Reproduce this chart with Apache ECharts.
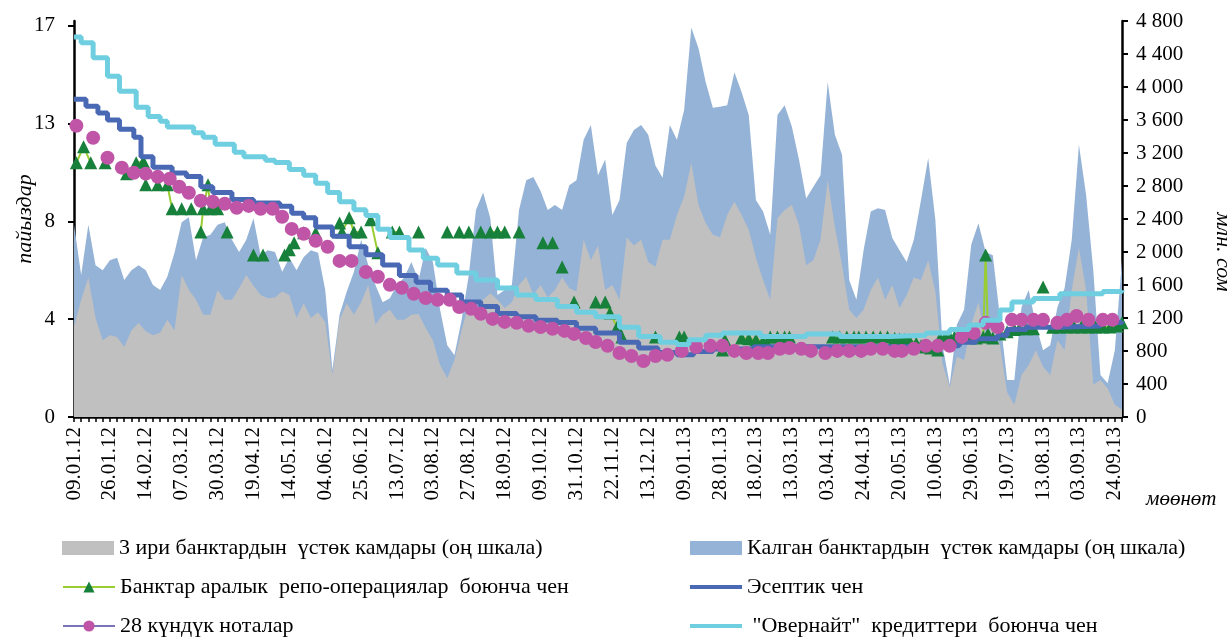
<!DOCTYPE html>
<html>
<head>
<meta charset="utf-8">
<script src="https://cdn.jsdelivr.net/npm/echarts@6/dist/echarts.min.js"></script>
<style>
  html, body { margin: 0; padding: 0; background: #fff; }
  #chart { width: 1232px; height: 639px; }
</style>
</head>
<body>
<div id="chart"></div>
<script>
// x axis = working days counted from 09.01.12, a date label every 15 days
var dateLabels = ['09.01.12', '26.01.12', '14.02.12', '07.03.12', '30.03.12', '19.04.12', '14.05.12', '04.06.12',
  '25.06.12', '13.07.12', '03.08.12', '27.08.12', '18.09.12', '09.10.12', '31.10.12', '22.11.12', '13.12.12',
  '09.01.13', '28.01.13', '18.02.13', '13.03.13', '03.04.13', '24.04.13', '20.05.13', '10.06.13', '29.06.13',
  '19.07.13', '13.08.13', '03.09.13', '24.09.13'];
var labelStep = 15;
var lastDay = 438;

var leftTicks = [0, 4.25, 8.5, 12.75, 17];
var leftTickLabels = ['0', '4', '8', '13', '17'];
var rightTickLabels = ['0', '400', '800', '1 200', '1 600', '2 000', '2 400', '2 800', '3 200', '3 600', '4 000', '4 400', '4 800'];

// excess reserves, mln som, one value every 3 working days
var reserveStep = 3;
var reserveBig3 = [1090, 1420, 1690, 1200, 930, 990, 970, 850, 1050, 1140,
  1040, 990, 1020, 1180, 1050, 1720, 1540, 1420, 1240, 1240,
  1540, 1420, 1420, 1560, 1720, 1590, 1480, 1440, 1450, 1520,
  1480, 1200, 1380, 1200, 1270, 1150, 510, 1180, 1380, 1240,
  1390, 1600, 1120, 1240, 1300, 1180, 1180, 1240, 1250, 1080,
  930, 630, 470, 690, 1050, 1370, 1240, 1420, 1500, 1420,
  1320, 1390, 1600, 1700, 1480, 1600, 1450, 1540, 1690, 1560,
  1520, 2150, 1900, 2080, 1540, 1600, 1420, 2180, 2080, 2150,
  1880, 1820, 2150, 2150, 2450, 2670, 3080, 2570, 2350, 2210,
  2180, 2450, 2610, 2450, 2270, 1930, 1660, 1420, 2410, 2510,
  2570, 2330, 1840, 1900, 2150, 2870, 2300, 1840, 1300, 1200,
  1300, 1540, 1690, 1420, 1600, 1320, 1480, 1690, 1660, 1900,
  1520, 650, 360, 730, 690, 1120, 1390, 930, 1120, 870,
  300, 150, 510, 630, 810, 610, 510, 930, 810, 1540,
  2050, 1540, 390, 450, 350, 150, 90];
// top of the stack (3 big banks + other banks)
var reserveTotal = [2330, 1720, 2330, 1840, 1780, 1900, 1930, 1660, 1780, 1840,
  1780, 1600, 1540, 1700, 1990, 2360, 2420, 1900, 2180, 2210,
  2330, 2360, 2150, 2000, 2150, 2410, 1960, 2020, 2000, 1760,
  1930, 1780, 1940, 2020, 1990, 1540, 570, 1240, 1520, 1760,
  2150, 1840, 1600, 1390, 1440, 1600, 1690, 1880, 1660, 2050,
  1880, 1300, 870, 750, 1180, 1720, 2510, 2720, 2410, 1480,
  1540, 1600, 2510, 2870, 2910, 2740, 2510, 2570, 2510, 2810,
  2870, 3360, 3540, 2930, 3120, 2450, 2630, 3320, 3480, 3540,
  3420, 3050, 2900, 3540, 3360, 3720, 4720, 4470, 4060, 3750,
  3760, 3780, 4180, 3940, 3660, 2630, 2490, 2210, 3660, 3780,
  3520, 3120, 2650, 2790, 2930, 4060, 3420, 3180, 1660, 1420,
  2020, 2490, 2530, 2510, 2170, 2020, 1880, 2150, 2630, 3140,
  2390, 870, 390, 1120, 1300, 2090, 2350, 2000, 1960, 1210,
  450, 450, 1330, 1540, 1120, 810, 870, 1330, 1560, 2150,
  3300, 2690, 1780, 510, 410, 810, 1900];

// rates, % : [working day, value]
var repoRate = [[1, 11.04], [4, 11.74], [7, 11.04], [13, 11.04], [22, 10.57], [26, 11.04], [29, 11.1], [30, 10.09],
  [35, 10.09], [39, 10.09], [41, 9.04], [45, 9.04], [49, 9.04], [53, 8.04], [54, 9.04], [56, 10.09], [57, 9.04],
  [60, 9.04], [64, 8.04], [75, 7.04], [79, 7.04], [88, 7.04], [90, 7.26], [92, 7.57], [96, 8.0], [101, 8.0],
  [111, 8.43], [112, 8.04], [115, 8.65], [117, 8.04], [120, 8.04], [124, 8.57], [127, 7.13], [133, 8.04], [136, 8.04],
  [144, 8.04], [156, 8.04], [161, 8.04], [165, 8.04], [170, 8.04], [174, 8.04], [177, 8.04], [180, 8.04], [186, 8.04],
  [196, 7.57], [200, 7.57], [204, 6.52], [209, 5.0], [218, 5.0], [222, 5.0], [224, 4.52], [227, 3.91], [229, 3.48],
  [243, 3.48], [253, 3.48], [255, 3.48], [271, 2.91], [272, 3.35], [279, 3.43], [282, 3.4], [285, 3.35], [288, 3.3],
  [290, 3.13], [291, 3.48], [294, 3.48], [297, 3.48], [299, 3.48], [317, 3.48], [320, 3.48], [323, 3.48], [326, 3.48],
  [328, 3.48], [331, 3.48], [334, 3.48], [337, 3.48], [340, 3.48], [343, 3.42], [345, 3.39], [347, 3.37], [349, 3.35],
  [352, 3.2], [354, 3.1], [356, 3.04], [358, 3.0], [361, 2.91], [362, 3.43], [364, 3.45], [366, 3.48], [368, 3.48],
  [371, 3.48], [374, 3.45], [377, 3.43], [380, 3.48], [381, 7.04], [382, 3.6], [384, 3.43], [387, 3.6], [390, 3.7],
  [393, 3.8], [395, 3.83], [398, 3.83], [401, 3.83], [405, 5.65], [409, 3.9], [412, 3.91], [415, 3.91], [418, 3.91],
  [421, 3.91], [424, 3.91], [427, 3.91], [430, 3.91], [433, 3.91], [436, 3.95], [438, 4.09]];

var refRate = [[0, 13.8], [5, 13.5], [10, 13.2], [14, 12.9], [19, 12.5], [25, 12.15], [28, 11.3], [33, 10.85],
  [41, 10.6], [47, 10.45], [53, 10.0], [58, 9.75], [66, 9.45], [75, 9.3], [86, 9.15], [91, 8.85], [96, 8.65],
  [101, 8.25], [108, 7.85], [115, 7.4], [122, 7.05], [129, 6.6], [136, 6.15], [143, 5.85], [149, 5.5], [156, 5.3],
  [162, 5.0], [170, 4.8], [177, 4.5], [185, 4.35], [193, 4.2], [202, 4.1], [210, 3.85], [218, 3.65], [228, 3.25],
  [236, 3.0], [244, 2.8], [252, 2.7], [259, 2.85], [267, 2.95], [284, 3.05], [365, 3.1], [370, 3.25], [377, 3.4],
  [386, 3.55], [390, 3.8], [398, 3.9], [412, 3.95], [429, 4.1], [438, 4.15]];

var notesRate = [[1, 12.65], [8, 12.13], [14, 11.26], [20, 10.83], [25, 10.61], [30, 10.57], [35, 10.43], [40, 10.35],
  [44, 10.0], [48, 9.74], [53, 9.39], [58, 9.35], [63, 9.26], [68, 9.09], [73, 9.17], [78, 9.04], [83, 9.04],
  [87, 8.7], [91, 8.17], [96, 7.96], [101, 7.65], [106, 7.39], [111, 6.78], [116, 6.78], [122, 6.3], [127, 6.09],
  [132, 5.74], [137, 5.61], [142, 5.35], [147, 5.17], [152, 5.09], [157, 5.09], [161, 4.78], [166, 4.7], [170, 4.48],
  [175, 4.26], [180, 4.13], [185, 4.09], [190, 3.96], [195, 3.91], [200, 3.83], [205, 3.74], [209, 3.61], [214, 3.43],
  [218, 3.26], [223, 3.09], [228, 2.78], [233, 2.65], [238, 2.43], [243, 2.65], [248, 2.7], [254, 2.87], [260, 3.04],
  [266, 3.09], [271, 3.09], [276, 2.87], [281, 2.78], [286, 2.78], [290, 2.78], [295, 2.96], [299, 3.0], [304, 2.96],
  [308, 2.87], [314, 2.78], [319, 2.87], [324, 2.87], [329, 2.87], [333, 2.96], [338, 2.96], [343, 2.87], [346, 2.87],
  [351, 2.96], [356, 3.09], [361, 3.09], [366, 3.09], [371, 3.48], [376, 3.65], [381, 4.09], [386, 3.91], [392, 4.22],
  [396, 4.22], [401, 4.22], [405, 4.22], [411, 4.09], [415, 4.22], [419, 4.39], [424, 4.22], [430, 4.22], [434, 4.22]];

var overnightRate = [[0, 16.5], [3, 16.25], [8, 15.6], [14, 14.8], [19, 14.15], [26, 13.45], [31, 13.05], [36, 12.85],
  [39, 12.6], [50, 12.35], [54, 12.15], [59, 11.85], [67, 11.5], [71, 11.3], [80, 11.15], [84, 11.05], [90, 10.75],
  [96, 10.5], [101, 10.15], [106, 9.75], [111, 9.35], [117, 9.0], [122, 8.75], [127, 8.15], [132, 7.8], [140, 7.25],
  [146, 6.9], [152, 6.6], [160, 6.25], [168, 5.95], [177, 5.6], [185, 5.3], [193, 5.1], [202, 4.8], [210, 4.55],
  [218, 4.35], [228, 3.9], [236, 3.5], [245, 3.25], [252, 3.15], [257, 3.35], [264, 3.55], [271, 3.65], [287, 3.5],
  [306, 3.6], [320, 3.5], [341, 3.55], [356, 3.65], [366, 3.8], [374, 4.0], [380, 4.2], [387, 4.65], [392, 5.0],
  [401, 5.15], [412, 5.35], [430, 5.45], [438, 5.5]];

var N_BIG3 = '3 ири банктардын  үстөк камдары (оң шкала)';
var N_OTHER = 'Калган банктардын  үстөк камдары (оң шкала)';
var N_REPO = 'Банктар аралык  репо-операциялар  боюнча чен';
var N_REF = 'Эсептик чен';
var N_NOTES = '28 күндүк ноталар';
var N_OVERNIGHT = ' "Овернайт"  кредиттери  боюнча чен';

var SERIF = '"Liberation Serif", "Times New Roman", serif';

function toPairs(arr) {
  return arr.map(function (v, i) { return [i * reserveStep, v]; });
}
// break the repo line where days are missing
function withGaps(points, maxGap) {
  var out = [];
  points.forEach(function (p, i) {
    if (i > 0 && p[0] - points[i - 1][0] > maxGap) out.push([(p[0] + points[i - 1][0]) / 2, '-']);
    out.push(p);
  });
  return out;
}

// one legend box per entry, two columns of three rows
function legendItem(name, left, top, extra) {
  var lg = {
    left: left, top: top, itemWidth: 52, itemHeight: 14, selectedMode: false,
    textStyle: { fontSize: 22, fontFamily: SERIF, color: '#000', lineHeight: 24 },
    data: [name]
  };
  for (var k in extra) lg[k] = extra[k];
  return lg;
}

var chart = echarts.init(document.getElementById('chart'));

var option = {
  animation: false,
  textStyle: { fontFamily: SERIF, color: '#000' },
  grid: { left: 74, right: 110, top: 21, bottom: 222, outerBoundsMode: 'none' },
  xAxis: {
    type: 'value', min: 0, max: lastDay, interval: labelStep,
    axisLine: { lineStyle: { color: '#000', width: 2.5 } },
    axisTick: { length: 5, lineStyle: { color: '#000', width: 1.5 } },
    minorTick: { show: true, splitNumber: 5, length: 5, lineStyle: { color: '#000', width: 1.5 } },
    splitLine: { show: false },
    axisLabel: {
      rotate: 90, margin: 10, fontSize: 21, fontFamily: SERIF, color: '#000', showMaxLabel: false,
      formatter: function (v) {
        var i = Math.round(v / labelStep);
        return Math.abs(v - i * labelStep) < 1e-6 && dateLabels[i] ? dateLabels[i] : '';
      }
    }
  },
  yAxis: [{
    type: 'value', position: 'left', min: 0, max: 17.2, interval: 4.25,
    axisLine: { show: true, lineStyle: { color: '#000', width: 2.5 } },
    axisTick: { show: true, length: 6, customValues: leftTicks, lineStyle: { color: '#000', width: 2 } },
    axisLabel: {
      customValues: leftTicks, margin: 19, fontSize: 21, fontFamily: SERIF, color: '#000',
      formatter: function (v) {
        for (var i = 0; i < leftTicks.length; i++) if (Math.abs(v - leftTicks[i]) < 1e-6) return leftTickLabels[i];
        return '';
      }
    },
    splitLine: { show: false },
    name: 'пайыздар', nameLocation: 'middle', nameGap: 38, nameMoveOverlap: false,
    nameTextStyle: { fontStyle: 'italic', fontSize: 22, fontFamily: SERIF, color: '#000' }
  }, {
    type: 'value', position: 'right', min: 0, max: 4800, interval: 400,
    axisLine: { show: true, lineStyle: { color: '#000', width: 2.5 } },
    axisTick: { show: true, length: 6, lineStyle: { color: '#000', width: 2 } },
    axisLabel: {
      margin: 14, fontSize: 21, fontFamily: SERIF, color: '#000',
      formatter: function (v) { return rightTickLabels[Math.round(v / 400)] || ''; }
    },
    splitLine: { show: false }
  }],
  legend: [
    legendItem(N_BIG3, 57, 531, { icon: 'rect' }),
    legendItem(N_REPO, 57, 570, {}),
    legendItem(N_NOTES, 57, 609, { lineStyle: { color: '#7b73b9', width: 2 } }),
    legendItem(N_OTHER, 685, 531, { icon: 'rect' }),
    legendItem(N_REF, 685, 570, { icon: 'rect', itemHeight: 4 }),
    legendItem(N_OVERNIGHT, 685, 609, { icon: 'rect', itemHeight: 4 })
  ],
  graphic: [{
    type: 'text', x: 1146, y: 489,
    style: { text: 'мөөнөт', font: 'italic 21px ' + SERIF, fill: '#000' }
  }, {
    type: 'text', x: 1223, y: 252, rotation: -Math.PI / 2,
    style: { text: 'млн. сом', font: 'italic 22px ' + SERIF, fill: '#000', align: 'center', verticalAlign: 'middle' }
  }],
  series: [{
    name: N_OTHER, type: 'line', yAxisIndex: 1, data: toPairs(reserveTotal),
    symbol: 'none', lineStyle: { width: 0 }, itemStyle: { color: '#95b3d7' },
    areaStyle: { color: '#95b3d7', opacity: 1 }, z: 1
  }, {
    name: N_BIG3, type: 'line', yAxisIndex: 1, data: toPairs(reserveBig3),
    symbol: 'none', lineStyle: { width: 0 }, itemStyle: { color: '#c0c0c0' },
    areaStyle: { color: '#c0c0c0', opacity: 1 }, z: 2
  }, {
    name: N_REPO, type: 'line', yAxisIndex: 0, data: withGaps(repoRate, 3), connectNulls: false,
    symbol: 'triangle', symbolSize: 13, itemStyle: { color: '#17813b' },
    lineStyle: { color: '#9acd32', width: 2 }, z: 3
  }, {
    name: N_REF, type: 'line', yAxisIndex: 0, data: refRate, step: 'end',
    symbol: 'none', itemStyle: { color: '#4a69b5' }, lineStyle: { color: '#4a69b5', width: 5 }, z: 4
  }, {
    name: N_NOTES, type: 'line', yAxisIndex: 0, data: notesRate,
    symbol: 'circle', symbolSize: 14, itemStyle: { color: '#c055a8' },
    lineStyle: { width: 0 }, z: 5
  }, {
    name: N_OVERNIGHT, type: 'line', yAxisIndex: 0, data: overnightRate, step: 'end',
    symbol: 'none', itemStyle: { color: '#6fcfe0' }, lineStyle: { color: '#6fcfe0', width: 5 }, z: 6
  }]
};

chart.setOption(option);
</script>
</body>
</html>
